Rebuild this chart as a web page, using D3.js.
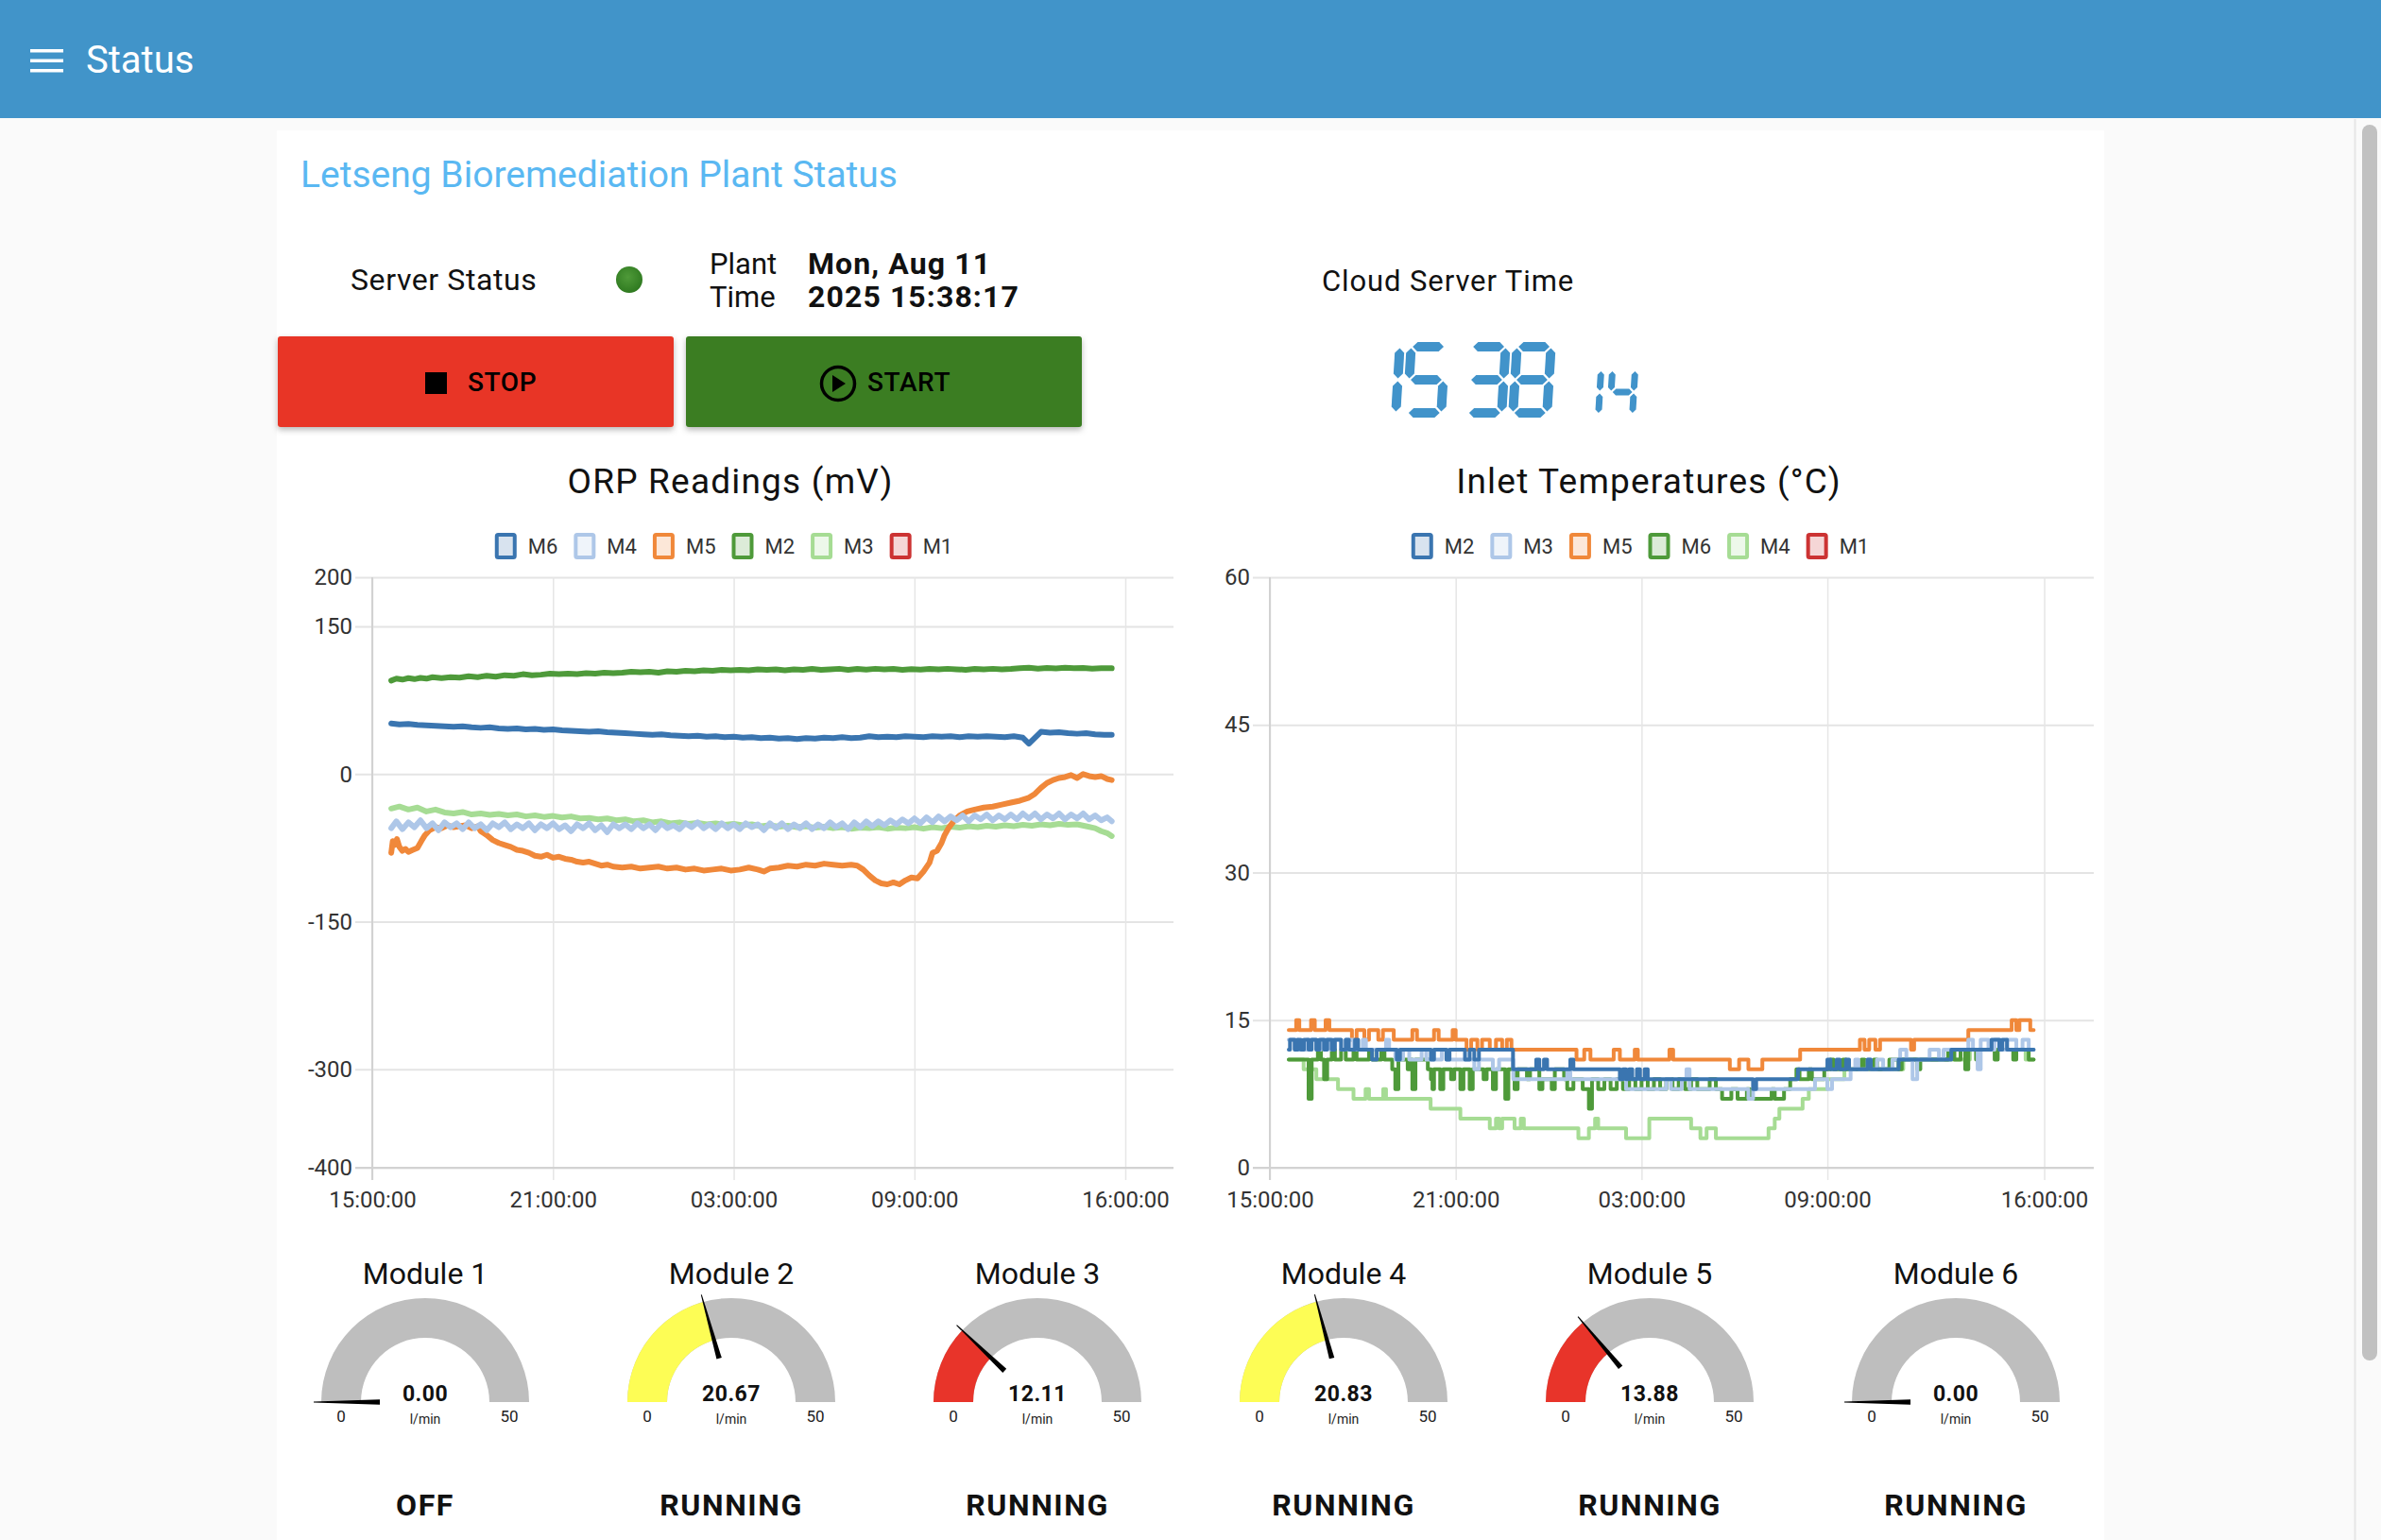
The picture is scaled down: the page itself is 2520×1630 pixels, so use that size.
<!DOCTYPE html>
<html>
<head>
<meta charset="utf-8">
<script src="https://cdn.jsdelivr.net/npm/d3@7"></script>
<style>
  body { margin: 0; background: #fafafa; font-family: Roboto, "Liberation Sans", sans-serif; }
  svg { display: block; }
</style>
</head>
<body>
<svg id="page"></svg>
<script>
// ---- DATA ----
const plantDate = "Mon, Aug 11";
const plantClock = "2025 15:38:17";
const cloudDigits = "1538";
const cloudSeconds = "14";

const palette = ["#3a75b0", "#aec7e8", "#f0883a", "#4e9a3a", "#a6dc94", "#cc3333"];
const orpNames = ["M6", "M4", "M5", "M2", "M3", "M1"];
const tempNames = ["M2", "M3", "M5", "M6", "M4", "M1"];

// hours since 15:00 on Aug 10
const timeTicks = [0, 6, 12, 18, 25];
const timeTickLabels = ["15:00:00", "21:00:00", "03:00:00", "09:00:00", "16:00:00"];
const timeDomain = [0, 26.6];
const orpTicks = [200, 150, 0, -150, -300, -400];
const tempTicks = [60, 45, 30, 15, 0];

// ORP readings (mV)
const orpM6 = [[0.63,51.5],[0.9,50.5],[1.2,51],[1.5,50],[1.8,49.5],[2.1,49],[2.4,48.5],[2.7,48],[3.0,48.5],[3.3,47.5],[3.6,47],[3.9,47.5],[4.2,46.5],[4.5,46],[4.8,46.5],[5.1,45.5],[5.4,46],[5.7,45],[6.0,45.5],[6.3,44.5],[6.6,44],[6.9,43.5],[7.2,43],[7.5,43.5],[7.8,42.5],[8.1,42],[8.4,41.5],[8.7,41],[9.0,40.5],[9.3,40],[9.6,40.5],[9.9,39.5],[10.2,39],[10.5,38.5],[10.8,39],[11.1,38],[11.4,38.5],[11.7,37.5],[12.0,38],[12.3,37],[12.6,37.5],[12.9,36.5],[13.2,37],[13.5,36],[13.8,36.5],[14.1,35.5],[14.4,36.5],[14.7,36],[15.0,37],[15.3,36.5],[15.6,37.5],[15.9,36.5],[16.2,37],[16.5,38.5],[16.8,37.5],[17.1,38],[17.4,37.5],[17.7,38.5],[18.0,38],[18.3,37.5],[18.6,38.5],[18.9,38],[19.2,38.5],[19.5,37.5],[19.8,38.5],[20.1,38],[20.4,38.5],[20.7,38],[21.0,37.5],[21.3,38.5],[21.6,37],[21.8,31],[22.0,37],[22.2,43],[22.5,42],[22.8,42.5],[23.1,41.5],[23.4,41],[23.7,41.5],[24.0,40.5],[24.3,40],[24.55,40]];
const orpM4 = [[0.63,-55],[0.8,-48],[1.0,-56],[1.2,-49],[1.4,-54],[1.6,-47],[1.8,-55],[2.0,-50],[2.2,-57],[2.4,-49],[2.6,-54],[2.8,-50],[3.0,-56],[3.2,-49],[3.4,-55],[3.6,-51],[3.8,-57],[4.0,-50],[4.2,-54],[4.4,-49],[4.6,-56],[4.8,-51],[5.0,-55],[5.2,-50],[5.4,-57],[5.6,-51],[5.8,-55],[6.0,-50],[6.2,-56],[6.4,-52],[6.6,-58],[6.8,-51],[7.0,-55],[7.2,-50],[7.4,-57],[7.6,-52],[7.8,-59],[8.0,-51],[8.2,-55],[8.4,-51],[8.6,-56],[8.8,-50],[9.0,-55],[9.2,-51],[9.4,-57],[9.6,-50],[9.8,-55],[10.0,-52],[10.2,-56],[10.4,-50],[10.6,-54],[10.8,-49],[11.0,-55],[11.2,-51],[11.4,-56],[11.6,-50],[11.8,-55],[12.0,-51],[12.2,-56],[12.4,-50],[12.6,-54],[12.8,-51],[13.0,-57],[13.2,-50],[13.4,-55],[13.6,-50],[13.8,-56],[14.0,-51],[14.2,-55],[14.4,-50],[14.6,-56],[14.8,-51],[15.0,-55],[15.2,-49],[15.4,-54],[15.6,-50],[15.8,-56],[16.0,-49],[16.2,-54],[16.4,-48],[16.6,-53],[16.8,-48],[17.0,-52],[17.2,-47],[17.4,-51],[17.6,-46],[17.8,-50],[18.0,-45],[18.2,-50],[18.4,-44],[18.6,-49],[18.8,-43],[19.0,-48],[19.2,-43],[19.4,-47],[19.6,-42],[19.8,-48],[20.0,-42],[20.2,-46],[20.4,-41],[20.6,-47],[20.8,-42],[21.0,-46],[21.2,-41],[21.4,-46],[21.6,-40],[21.8,-45],[22.0,-40],[22.2,-46],[22.4,-41],[22.6,-45],[22.8,-40],[23.0,-46],[23.2,-41],[23.4,-45],[23.6,-40],[23.8,-46],[24.0,-42],[24.2,-47],[24.4,-44],[24.55,-48]];
const orpM5 = [[0.63,-80],[0.68,-68],[0.75,-72],[0.82,-66],[0.9,-74],[1.0,-78],[1.1,-76],[1.2,-79],[1.35,-77],[1.5,-75],[1.63,-68],[1.75,-62],[1.9,-57],[2.1,-54],[2.3,-55],[2.5,-52],[2.7,-54],[2.9,-53],[3.1,-52],[3.3,-55],[3.5,-53],[3.6,-58],[3.8,-62],[4.0,-67],[4.2,-70],[4.4,-72],[4.6,-74],[4.8,-77],[5.0,-78],[5.2,-80],[5.4,-83],[5.6,-84],[5.8,-82],[6.0,-85],[6.2,-84],[6.4,-86],[6.6,-87],[6.8,-89],[7.0,-90],[7.2,-89],[7.4,-91],[7.6,-93],[7.8,-92],[8.0,-94],[8.3,-95],[8.6,-94],[8.9,-96],[9.2,-95],[9.5,-94],[9.8,-96],[10.1,-95],[10.4,-97],[10.7,-96],[11.0,-98],[11.3,-97],[11.6,-96],[11.9,-98],[12.2,-97],[12.5,-95],[12.8,-97],[13.0,-99],[13.2,-96],[13.5,-95],[13.8,-93],[14.1,-94],[14.4,-92],[14.7,-93],[15.0,-91],[15.3,-92],[15.6,-93],[15.9,-92],[16.1,-93],[16.3,-97],[16.5,-103],[16.7,-108],[16.9,-111],[17.1,-112],[17.3,-110],[17.5,-112],[17.7,-108],[17.9,-105],[18.1,-106],[18.3,-99],[18.5,-90],[18.6,-80],[18.75,-78],[18.9,-70],[19.0,-62],[19.15,-54],[19.3,-48],[19.5,-42],[19.75,-38],[20.0,-36],[20.3,-34],[20.6,-33],[20.9,-31],[21.2,-29],[21.5,-27],[21.8,-24],[22.0,-20],[22.2,-14],[22.4,-9],[22.6,-6],[22.8,-4],[23.0,-3],[23.2,-1],[23.4,-4],[23.6,0],[23.8,-2],[24.0,-3],[24.2,-2],[24.4,-5],[24.55,-6]];
const orpM2 = [[0.63,95],[0.8,97],[1.0,96],[1.2,97.5],[1.4,96.5],[1.6,97.8],[1.8,97],[2.0,98.5],[2.3,97.5],[2.6,98.5],[2.9,98],[3.2,99.5],[3.5,98.5],[3.8,100],[4.1,99],[4.4,100.5],[4.7,100],[5.0,101.5],[5.3,100.5],[5.6,101],[5.9,102],[6.2,101.5],[6.5,102],[6.8,101.5],[7.1,102.5],[7.4,102],[7.7,103],[8.0,102.5],[8.3,103],[8.6,104],[8.9,103.5],[9.2,104],[9.5,103],[9.8,104.5],[10.1,104],[10.4,105],[10.7,104.5],[11.0,105.5],[11.3,105],[11.6,106],[11.9,105.5],[12.2,106],[12.5,105.5],[12.8,106.5],[13.1,106],[13.4,106.5],[13.7,105.5],[14.0,106.5],[14.3,106],[14.6,106.8],[14.9,106],[15.2,106.5],[15.5,107],[15.8,106],[16.1,106.8],[16.4,106.2],[16.7,107],[17.0,106.3],[17.3,106.8],[17.6,106],[17.9,106.7],[18.2,106.2],[18.5,106.8],[18.8,106.3],[19.1,107],[19.4,106.5],[19.7,106],[20.0,106.8],[20.3,106.3],[20.6,107],[20.9,106.4],[21.2,106.8],[21.5,107.5],[21.8,108],[22.1,107.2],[22.4,107.8],[22.7,107.3],[23.0,108],[23.3,107.5],[23.6,107.8],[23.9,107.2],[24.2,107.7],[24.55,107.5]];
const orpM3 = [[0.63,-35],[0.9,-33],[1.2,-36],[1.5,-34],[1.8,-38],[2.1,-36],[2.4,-39],[2.7,-40],[3.0,-38.5],[3.3,-41],[3.6,-40],[3.9,-41.5],[4.2,-40.5],[4.5,-42],[4.8,-41],[5.1,-43],[5.4,-42],[5.7,-43.5],[6.0,-42.5],[6.3,-44],[6.6,-43],[6.9,-45],[7.2,-44.5],[7.5,-46],[7.8,-45],[8.1,-47],[8.4,-46],[8.7,-48],[9.0,-47],[9.3,-49],[9.6,-48],[9.9,-50],[10.2,-49],[10.5,-50.5],[10.8,-49.5],[11.1,-51],[11.4,-50],[11.7,-51.5],[12.0,-50.5],[12.3,-52],[12.6,-51],[12.9,-53],[13.2,-52],[13.5,-53.5],[13.8,-52.5],[14.1,-54],[14.4,-53],[14.7,-54.5],[15.0,-53.5],[15.3,-55],[15.6,-54],[15.9,-55.5],[16.2,-54.5],[16.5,-55],[16.8,-54],[17.1,-55.5],[17.4,-54.5],[17.7,-55],[18.0,-54],[18.3,-55.5],[18.6,-54],[18.9,-55],[19.2,-53.5],[19.5,-54.5],[19.8,-53],[20.1,-54],[20.4,-52.5],[20.7,-53.5],[21.0,-52],[21.3,-53],[21.6,-51.5],[21.9,-52.5],[22.2,-51],[22.5,-52],[22.8,-50.5],[23.1,-51.5],[23.4,-51],[23.7,-53],[24.0,-55],[24.2,-58],[24.4,-60],[24.55,-63]];
const orpM1 = [];

// Inlet temperatures (°C), step readings
const tempM2 = [[0.61,12],[0.65,13],[0.8,12],[0.9,13],[1.0,12],[1.1,13],[1.25,12],[1.35,13],[1.5,12],[1.6,13],[1.75,12],[1.85,13],[2.0,12],[2.1,13],[2.3,12],[2.45,13],[2.55,12],[2.75,13],[2.85,12],[3.3,11],[3.45,12],[4.1,11],[4.2,12],[5.2,11],[5.3,12],[5.7,11],[5.8,12],[6.3,11],[6.45,12],[6.6,11],[6.75,12],[7.85,10],[8.6,11],[8.7,10],[8.85,11],[8.95,10],[9.7,11],[9.8,10],[11.3,9],[11.4,10],[11.5,9],[11.6,10],[11.7,9],[11.85,10],[11.95,9],[12.1,10],[12.2,9],[15.5,9],[15.6,8],[15.7,9],[17.05,10],[18.0,11],[18.1,10],[18.3,11],[18.4,10],[18.6,11],[18.7,10],[19.3,11],[19.4,10],[20.3,11],[22.0,12],[23.3,13],[23.55,12],[23.65,13],[23.8,12],[24.66,12]];
const tempM3 = [[0.61,13],[0.9,12],[1.2,13],[1.5,12],[1.65,13],[1.95,12],[2.05,13],[2.3,12],[2.45,13],[2.7,12],[3.0,13],[3.1,12],[3.6,12],[3.75,13],[3.85,12],[4.05,11],[4.3,12],[4.5,11],[4.9,12],[5.05,11],[5.55,12],[5.7,11],[6.6,10],[6.75,11],[7.2,10],[7.4,11],[7.86,9],[9.6,10],[9.7,9],[11.5,8],[12.8,9],[12.95,8],[13.3,9],[13.45,10],[13.55,8],[15.45,7],[15.6,8],[17.6,9],[18.0,8],[18.15,9],[18.75,10],[18.9,11],[19.0,10],[19.3,11],[19.4,10],[19.6,11],[19.8,10],[20.1,11],[20.35,12],[20.55,11],[20.75,9],[20.9,11],[21.3,12],[21.6,11],[21.75,12],[22.55,13],[22.7,12],[22.85,10],[22.95,13],[23.2,12],[23.4,13],[23.6,12],[23.8,13],[24.1,12],[24.3,13],[24.5,12],[24.66,12]];
const tempM5 = [[0.61,14],[0.85,15],[0.95,14],[1.33,15],[1.45,14],[1.8,15],[1.92,14],[2.65,13],[2.8,14],[3.05,13],[3.2,14],[3.5,13],[3.65,14],[4.0,13],[4.6,14],[4.75,13],[5.3,14],[5.45,13],[5.9,14],[6.0,13],[6.35,12],[6.5,13],[6.7,12],[6.85,13],[7.1,12],[7.3,13],[7.5,12],[7.65,13],[7.8,12],[9.9,11],[10.15,12],[10.35,11],[11.1,12],[11.3,11],[11.78,12],[11.88,11],[12.9,12],[13.02,11],[14.85,10],[15.15,11],[15.45,10],[15.9,11],[17.12,12],[19.05,13],[19.2,12],[19.35,13],[19.55,12],[19.7,13],[20.7,12],[20.8,13],[22.55,14],[23.95,15],[24.1,14],[24.2,15],[24.55,14],[24.66,14]];
const tempM6 = [[0.61,11],[1.2,11],[1.25,7],[1.35,11],[1.55,12],[1.65,11],[1.75,9],[1.85,11],[2.0,12],[2.1,11],[2.3,12],[2.45,11],[2.7,12],[2.8,11],[3.2,12],[3.3,11],[3.6,12],[3.7,11],[3.95,10],[4.05,8],[4.15,11],[4.45,10],[4.5,11],[4.6,8],[4.7,11],[5.1,10],[5.2,9],[5.25,8],[5.3,10],[5.5,8],[5.6,10],[5.85,9],[5.95,10],[6.15,8],[6.25,10],[6.45,8],[6.55,10],[6.9,9],[7.0,10],[7.2,8],[7.3,10],[7.6,7],[7.7,10],[7.9,8],[8.0,10],[8.3,9],[8.4,10],[8.7,8],[8.8,9],[9.1,8],[9.2,10],[9.5,9],[9.6,8],[9.8,9],[10.1,8],[10.3,6],[10.4,9],[10.6,8],[10.8,9],[11.0,8],[11.2,9],[11.4,8],[11.6,9],[11.8,8],[12.0,9],[12.2,8],[12.4,9],[12.6,8],[12.8,9],[13.0,8],[13.2,9],[13.4,8],[13.6,9],[13.8,8],[14.2,9],[14.4,8],[14.6,7],[14.9,8],[15.1,7],[15.4,8],[15.5,7],[16.2,8],[16.3,7],[16.6,8],[16.8,9],[17.0,10],[17.1,9],[17.4,10],[17.5,9],[17.9,10],[18.1,11],[18.2,10],[18.5,11],[18.6,10],[19.1,11],[19.2,10],[19.5,11],[19.6,10],[20.0,11],[20.3,10],[20.4,11],[20.9,10],[21.0,11],[21.9,12],[22.1,11],[22.3,12],[22.45,10],[22.55,12],[22.8,11],[22.9,12],[23.4,11],[23.5,12],[24.0,11],[24.1,12],[24.5,11],[24.66,11]];
const tempM4 = [[0.61,11],[1.09,10],[1.5,9],[2.2,8],[2.7,7],[3.09,8],[3.2,7],[3.66,8],[3.75,7],[5.19,6],[6.15,5],[7.1,4],[7.3,5],[7.4,4],[7.5,5],[7.9,4],[8.1,5],[8.2,4],[9.96,3],[10.3,4],[10.5,5],[10.6,4],[11.5,3],[12.25,5],[13.6,4],[13.9,3],[14.1,4],[14.4,3],[16.1,4],[16.3,5],[16.45,6],[17.2,7],[17.4,8],[18.0,9],[18.55,10],[20.45,11],[22.6,12],[24.4,11],[24.66,11]];
const tempM1 = [];

// Flow gauges
const gaugeNames = ["Module 1", "Module 2", "Module 3", "Module 4", "Module 5", "Module 6"];
const gaugeValues = [0.00, 20.67, 12.11, 20.83, 13.88, 0.00];
const gaugeStatus = ["OFF", "RUNNING", "RUNNING", "RUNNING", "RUNNING", "RUNNING"];
const gaugeMax = 50;
const gaugeUnit = "l/min";

// ---- PAGE ----
const W = 2520, H = 1630;
const svg = d3.select("#page").attr("width", W).attr("height", H);
const defs = svg.append("defs");

defs.append("filter").attr("id", "btnShadow").attr("x", "-10%").attr("y", "-20%").attr("width", "120%").attr("height", "150%")
  .append("feDropShadow").attr("dx", 0).attr("dy", 3).attr("stdDeviation", 3).attr("flood-color", "#000").attr("flood-opacity", 0.28);

const dotGrad = defs.append("radialGradient").attr("id", "dotGrad").attr("cx", "45%").attr("cy", "40%").attr("r", "60%");
dotGrad.append("stop").attr("offset", "0%").attr("stop-color", "#4f9a39");
dotGrad.append("stop").attr("offset", "100%").attr("stop-color", "#2f7a20");

// header bar
svg.append("rect").attr("width", W).attr("height", 125).attr("fill", "#4194c9");
[52, 62.5, 73].forEach(y => {
  svg.append("rect").attr("x", 32).attr("y", y).attr("width", 35).attr("height", 3.5).attr("fill", "#fff");
});
svg.append("text").attr("x", 91).attr("y", 77).attr("font-size", 40).attr("fill", "#fff").text("Status");

// scrollbar
svg.append("rect").attr("x", 2492).attr("y", 126).attr("width", 28).attr("height", H - 126).attr("fill", "#fafafa");
svg.append("line").attr("x1", 2492.5).attr("x2", 2492.5).attr("y1", 126).attr("y2", H).attr("stroke", "#e6e6e6").attr("stroke-width", 2);
svg.append("rect").attr("x", 2500).attr("y", 132).attr("width", 16).attr("height", 1308).attr("rx", 8).attr("fill", "#c1c1c1");

// card
svg.append("rect").attr("x", 293).attr("y", 138).attr("width", 1934).attr("height", H).attr("fill", "#fff");

svg.append("text").attr("x", 318).attr("y", 198).attr("font-size", 39).attr("fill", "#5ab8f2")
  .text("Letseng Bioremediation Plant Status");

// status row
svg.append("text").attr("x", 371).attr("y", 307).attr("font-size", 32).attr("letter-spacing", 0.6).attr("fill", "#111").text("Server Status");
svg.append("circle").attr("cx", 666).attr("cy", 296).attr("r", 14).attr("fill", "url(#dotGrad)");
svg.append("text").attr("x", 751).attr("y", 290).attr("font-size", 31).attr("fill", "#111").text("Plant");
svg.append("text").attr("x", 751).attr("y", 325).attr("font-size", 31).attr("fill", "#111").text("Time");
svg.append("text").attr("x", 855).attr("y", 290).attr("font-size", 32).attr("font-weight", 700).attr("letter-spacing", 1.1).attr("fill", "#111").text(plantDate);
svg.append("text").attr("x", 855).attr("y", 325).attr("font-size", 32).attr("font-weight", 700).attr("letter-spacing", 1.1).attr("fill", "#111").text(plantClock);
svg.append("text").attr("x", 1399).attr("y", 308).attr("font-size", 31).attr("letter-spacing", 0.9).attr("fill", "#111").text("Cloud Server Time");

// buttons
svg.append("rect").attr("x", 294).attr("y", 356).attr("width", 419).attr("height", 96).attr("rx", 3)
  .attr("fill", "#e83426").attr("filter", "url(#btnShadow)");
svg.append("rect").attr("x", 450).attr("y", 394).attr("width", 23).attr("height", 23).attr("fill", "#000");
svg.append("text").attr("x", 495).attr("y", 414).attr("font-size", 28).attr("font-weight", 500)
  .attr("letter-spacing", 0.6).attr("fill", "#000").text("STOP");

svg.append("rect").attr("x", 726).attr("y", 356).attr("width", 419).attr("height", 96).attr("rx", 3)
  .attr("fill", "#3a7d23").attr("filter", "url(#btnShadow)");
svg.append("circle").attr("cx", 887).attr("cy", 406).attr("r", 17.5).attr("fill", "none").attr("stroke", "#000").attr("stroke-width", 3.5);
svg.append("path").attr("d", "M881,397 L881,415 L895,406 Z").attr("fill", "#000");
svg.append("text").attr("x", 918).attr("y", 414).attr("font-size", 28).attr("font-weight", 500)
  .attr("letter-spacing", 0.6).attr("fill", "#000").text("START");

// ---- 7-SEGMENT CLOCK ----
const segMap = {
  "0": "abcdef", "1": "bc", "2": "abged", "3": "abgcd", "4": "fgbc",
  "5": "afgcd", "6": "afgedc", "7": "abc", "8": "abcdefg", "9": "abcdfg"
};
function segPolys(w, h, t) {
  const g = 1.6, ht = t / 2;
  const hor = (yc) => [[ht + g, yc], [t + g, yc - ht], [w - t - g, yc - ht], [w - ht - g, yc], [w - t - g, yc + ht], [t + g, yc + ht]];
  const ver = (xc, y0, y1) => [[xc, y0 + g], [xc + ht, y0 + ht + g], [xc + ht, y1 - ht - g], [xc, y1 - g], [xc - ht, y1 - ht - g], [xc - ht, y0 + ht + g]];
  return {
    a: hor(ht), g: hor(h / 2), d: hor(h - ht),
    f: ver(ht, ht, h / 2), b: ver(w - ht, ht, h / 2),
    e: ver(ht, h / 2, h - ht), c: ver(w - ht, h / 2, h - ht)
  };
}
function drawDigit(ch, x0, top, w, h, t) {
  const polys = segPolys(w, h, t);
  const shift = h * Math.tan(3.5 * Math.PI / 180);
  const gd = svg.append("g").attr("transform", `translate(${x0 + shift},${top}) skewX(-3.5)`);
  gd.selectAll("polygon").data(segMap[ch].split("")).join("polygon")
    .attr("points", s => polys[s].map(p => p.join(",")).join(" "))
    .attr("fill", "#4193ca");
}
const bigX = [1436, 1484, 1548, 1596];
cloudDigits.split("").forEach((ch, i) => drawDigit(ch, bigX[i], 362, 46, 80, 10));
const smallX = [1664, 1700];
cloudSeconds.split("").forEach((ch, i) => drawDigit(ch, smallX[i], 388, 31, 54, 7));

// ---- CHARTS ----
function drawChart(cfg) {
  const x = d3.scaleLinear().domain(timeDomain).range([cfg.left, cfg.right]);
  const y = d3.scaleLinear().domain(cfg.yDomain).range([cfg.bottom, cfg.top]);
  const g = svg.append("g");

  g.append("text").attr("x", cfg.titleX).attr("y", 522).attr("text-anchor", "middle")
    .attr("font-size", 37).attr("letter-spacing", 1.2).attr("fill", "#111").text(cfg.title);

  // legend
  const leg = g.append("g");
  let lx = 0;
  cfg.names.forEach((name, i) => {
    const it = leg.append("g").attr("transform", `translate(${lx},0)`);
    it.append("rect").attr("x", 2).attr("y", 566).attr("width", 19).attr("height", 24).attr("rx", 1.5)
      .attr("fill", palette[i]).attr("fill-opacity", 0.2)
      .attr("stroke", palette[i]).attr("stroke-width", 4);
    const t = it.append("text").attr("x", 35).attr("y", 586).attr("font-size", 22).attr("fill", "#333").text(name);
    lx += 35 + t.node().getComputedTextLength() + 17;
  });
  leg.attr("transform", `translate(${cfg.legendCx - (lx - 17) / 2},0)`);

  // y grid + labels
  const yAxis = g.append("g").attr("transform", `translate(${cfg.left - 18},0)`)
    .call(d3.axisLeft(y).tickValues(cfg.yTicks).tickFormat(d => String(d))
      .tickSize(-(cfg.right - cfg.left + 18)).tickPadding(3).tickSizeOuter(0));
  yAxis.select(".domain").remove();
  yAxis.selectAll(".tick line").attr("stroke", "#e4e4e4").attr("stroke-width", 2);
  yAxis.selectAll(".tick text").attr("font-size", 24).attr("fill", "#333").attr("font-family", "Roboto, sans-serif");

  // x grid + labels
  const xAxis = g.append("g").attr("transform", `translate(0,${cfg.bottom + 13})`)
    .call(d3.axisBottom(x).tickValues(timeTicks).tickFormat((d, i) => timeTickLabels[i])
      .tickSize(-(cfg.bottom - cfg.top + 13)).tickPadding(12).tickSizeOuter(0));
  xAxis.select(".domain").remove();
  xAxis.selectAll(".tick line").attr("stroke", "#e6e6e6").attr("stroke-width", 1.5);
  xAxis.selectAll(".tick text").attr("font-size", 24).attr("fill", "#333").attr("font-family", "Roboto, sans-serif");

  // borders
  g.append("line").attr("x1", cfg.left).attr("x2", cfg.left).attr("y1", cfg.top).attr("y2", cfg.bottom + 13)
    .attr("stroke", "#d2d2d2").attr("stroke-width", 2);
  g.append("line").attr("x1", cfg.left - 18).attr("x2", cfg.right).attr("y1", cfg.bottom).attr("y2", cfg.bottom)
    .attr("stroke", "#d2d2d2").attr("stroke-width", 2);

  // lines: first dataset drawn last (on top)
  const line = d3.line().x(d => x(d[0])).y(d => y(d[1])).curve(cfg.curve);
  const idx = d3.range(cfg.series.length).reverse();
  idx.forEach(i => {
    if (!cfg.series[i].length) return;
    g.append("path").datum(cfg.series[i])
      .attr("fill", "none").attr("stroke", palette[i]).attr("stroke-width", cfg.strokeW)
      .attr("stroke-linejoin", "round").attr("stroke-linecap", "round")
      .attr("d", line);
  });
}

drawChart({
  title: "ORP Readings (mV)", titleX: 773, legendCx: 766,
  names: orpNames, series: [orpM6, orpM4, orpM5, orpM2, orpM3, orpM1],
  left: 394, right: 1242, top: 611, bottom: 1236,
  yDomain: [-400, 200], yTicks: orpTicks, curve: d3.curveLinear, strokeW: 6
});

drawChart({
  title: "Inlet Temperatures (°C)", titleX: 1745, legendCx: 1736,
  names: tempNames, series: [tempM2, tempM3, tempM5, tempM6, tempM4, tempM1],
  left: 1344, right: 2216, top: 611, bottom: 1236,
  yDomain: [0, 60], yTicks: tempTicks, curve: d3.curveStepAfter, strokeW: 4
});

// ---- GAUGES ----
const gx = d3.scalePoint().domain(gaugeNames).range([450, 2070]);
const needleAngle = d3.scaleLinear().domain([0, gaugeMax]).range([-90, 90]);
const arcAngle = d3.scaleLinear().domain([0, gaugeMax]).range([-Math.PI / 2, Math.PI / 2]);
const arc = d3.arc().innerRadius(68).outerRadius(110);
const levelColor = v => v < 15 ? "#e8342a" : v < 30 ? "#fdfd55" : "#3a9a3a";
const gaugeCy = 1484;

gaugeNames.forEach((name, i) => {
  const v = gaugeValues[i];
  const g = svg.append("g").attr("transform", `translate(${gx(name)},0)`);
  g.append("text").attr("x", 0).attr("y", 1359).attr("text-anchor", "middle").attr("font-size", 32).attr("fill", "#111").text(name);

  const ga = g.append("g").attr("transform", `translate(0,${gaugeCy})`);
  ga.append("path").attr("d", arc({ startAngle: -Math.PI / 2, endAngle: Math.PI / 2 })).attr("fill", "#bebebe");
  if (v > 0) {
    ga.append("path").attr("d", arc({ startAngle: -Math.PI / 2, endAngle: arcAngle(v) })).attr("fill", levelColor(v));
  }
  ga.append("path").attr("d", "M-2.8,-48 L2.8,-48 L0.5,-118 L-0.5,-118 Z").attr("fill", "#000")
    .attr("transform", `rotate(${needleAngle(v)})`);

  g.append("text").attr("x", 0).attr("y", 1483).attr("text-anchor", "middle").attr("font-size", 23)
    .attr("font-weight", 700).attr("letter-spacing", 0.5).attr("fill", "#111").text(d3.format(".2f")(v));
  g.append("text").attr("x", 0).attr("y", 1507).attr("text-anchor", "middle").attr("font-size", 14)
    .attr("fill", "#222").text(gaugeUnit);
  g.append("text").attr("x", -89).attr("y", 1505).attr("text-anchor", "middle").attr("font-size", 17)
    .attr("fill", "#222").text("0");
  g.append("text").attr("x", 89).attr("y", 1505).attr("text-anchor", "middle").attr("font-size", 17)
    .attr("fill", "#222").text(gaugeMax);

  g.append("text").attr("x", 0).attr("y", 1604).attr("text-anchor", "middle").attr("font-size", 32)
    .attr("font-weight", 700).attr("letter-spacing", 1.6).attr("fill", "#111").text(gaugeStatus[i]);
});
</script>
</body>
</html>
